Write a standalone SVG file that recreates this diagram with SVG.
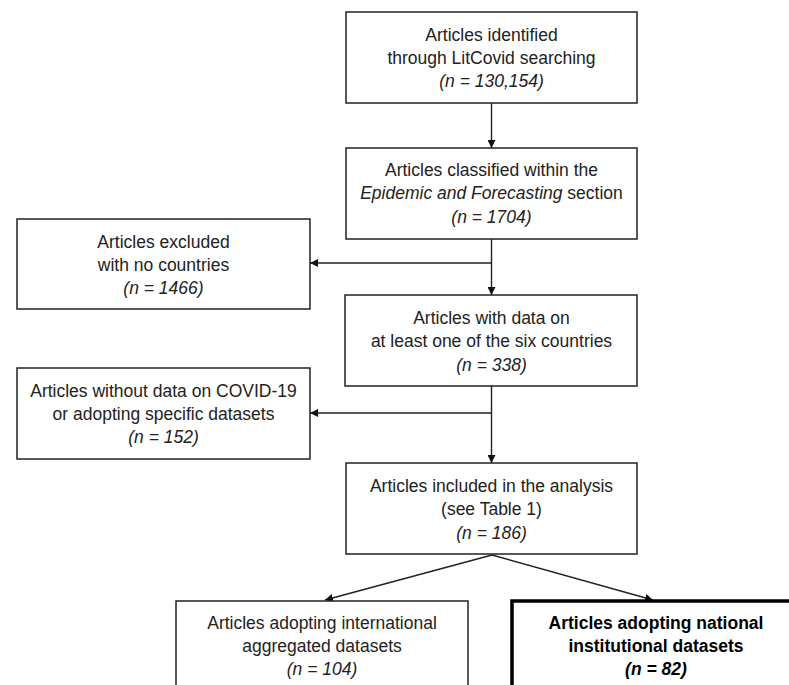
<svg xmlns="http://www.w3.org/2000/svg" width="789" height="685" viewBox="0 0 789 685">
<style>
.box{fill:#fff;stroke:#222;stroke-width:1.5}
.thick{fill:#fff;stroke:#000;stroke-width:3.5}
text{font-family:"Liberation Sans",Arial,sans-serif;font-size:17.5px;fill:#222;text-anchor:middle}
.it{font-style:italic}
.b{font-weight:bold;fill:#000}
.ln{stroke:#222;stroke-width:1.4;fill:none}
</style>
<defs>
<marker id="ah" viewBox="0 0 10 10" refX="10" refY="5" markerWidth="8" markerHeight="8" markerUnits="userSpaceOnUse" orient="auto">
<path d="M0,0 L10,5 L0,10 z" fill="#111"/>
</marker>
</defs>
<rect width="789" height="685" fill="#fff"/>
<g id="connectors">
<line class="ln" x1="491.5" y1="103" x2="491.5" y2="148" marker-end="url(#ah)"/>
<line class="ln" x1="491.5" y1="239" x2="491.5" y2="295" marker-end="url(#ah)"/>
<line class="ln" x1="491.5" y1="263" x2="310" y2="263" marker-end="url(#ah)"/>
<line class="ln" x1="491.5" y1="386" x2="491.5" y2="463" marker-end="url(#ah)"/>
<line class="ln" x1="491.5" y1="413" x2="310" y2="413" marker-end="url(#ah)"/>
<line class="ln" x1="492" y1="555" x2="325" y2="600" marker-end="url(#ah)"/>
<line class="ln" x1="492" y1="555" x2="653" y2="600" marker-end="url(#ah)"/>
</g>
<g id="n1">
<rect class="box" x="346" y="12" width="291" height="91"/>
<text x="491.5" y="41">Articles identified</text>
<text x="491.5" y="64">through LitCovid searching</text>
<text x="491.5" y="87" class="it">(n = 130,154)</text>
</g>
<g id="n2">
<rect class="box" x="346" y="148" width="291" height="91"/>
<text x="491.5" y="176">Articles classified within the</text>
<text x="491.5" y="199"><tspan class="it">Epidemic and Forecasting</tspan> section</text>
<text x="491.5" y="223" class="it">(n = 1704)</text>
</g>
<g id="n3">
<rect class="box" x="17" y="219" width="293" height="90"/>
<text x="163.5" y="248">Articles excluded</text>
<text x="163.5" y="271">with no countries</text>
<text x="163.5" y="294" class="it">(n = 1466)</text>
</g>
<g id="n4">
<rect class="box" x="345" y="295" width="292" height="91"/>
<text x="491.5" y="324">Articles with data on</text>
<text x="491.5" y="347">at least one of the six countries</text>
<text x="491.5" y="371" class="it">(n = 338)</text>
</g>
<g id="n5">
<rect class="box" x="17" y="368" width="293" height="91"/>
<text x="163.5" y="397">Articles without data on COVID-19</text>
<text x="163.5" y="420">or adopting specific datasets</text>
<text x="163.5" y="443" class="it">(n = 152)</text>
</g>
<g id="n6">
<rect class="box" x="346" y="463" width="291" height="91"/>
<text x="491.5" y="492">Articles included in the analysis</text>
<text x="491.5" y="515">(see Table 1)</text>
<text x="491.5" y="539" class="it">(n = 186)</text>
</g>
<g id="n7">
<rect class="box" x="176" y="601" width="292" height="100"/>
<text x="322" y="629">Articles adopting international</text>
<text x="322" y="652">aggregated datasets</text>
<text x="322" y="675" class="it">(n = 104)</text>
</g>
<g id="n8">
<rect class="thick" x="512" y="601" width="300" height="100"/>
<text x="656" y="629" class="b">Articles adopting national</text>
<text x="656" y="652" class="b">institutional datasets</text>
<text x="656" y="675" class="b it">(n = 82)</text>
</g>
</svg>
